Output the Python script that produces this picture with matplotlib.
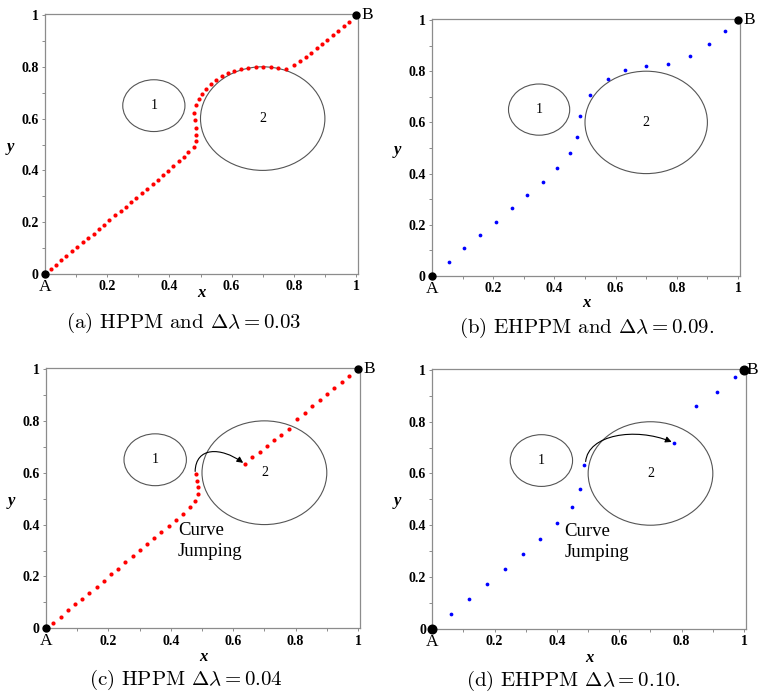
import matplotlib
matplotlib.use('Agg')
import matplotlib.pyplot as plt
from matplotlib.patches import Circle, FancyArrowPatch
from matplotlib.path import Path

plt.rcParams.update({
    'font.family': 'serif',
    'font.serif': ['Liberation Serif', 'DejaVu Serif'],
    'mathtext.fontset': 'cm',
})

RED = '#ff0000'
BLUE = '#0000ff'
GREY = '#8c8c8c'
W, H = 759, 696

# ── obstacles ───────────────────────────────────────────────
obs_x = [0.35, 0.70]
obs_y = [0.65, 0.60]
obs_r = [0.10, 0.20]
obs_lab = ['1', '2']

# ── (a) HPPM, dlambda = 0.03 ────────────────────────────────
a_x = [0.018, 0.035, 0.052, 0.069, 0.086, 0.103, 0.122, 0.139, 0.156, 0.173,
       0.190, 0.207, 0.226, 0.243, 0.260, 0.277, 0.294, 0.311, 0.329, 0.346,
       0.363, 0.380, 0.397, 0.413, 0.430, 0.446, 0.461, 0.478, 0.486, 0.487,
       0.485, 0.481, 0.480, 0.484, 0.494, 0.505, 0.518, 0.533, 0.550, 0.568,
       0.588, 0.609, 0.631, 0.654, 0.677, 0.702, 0.726, 0.750, 0.774, 0.800,
       0.820, 0.838, 0.856, 0.874, 0.891, 0.908, 0.926, 0.943, 0.960, 0.978]
a_y = [0.018, 0.036, 0.054, 0.071, 0.088, 0.105, 0.122, 0.140, 0.156, 0.173,
       0.191, 0.208, 0.226, 0.242, 0.259, 0.277, 0.294, 0.312, 0.329, 0.346,
       0.363, 0.381, 0.399, 0.417, 0.435, 0.453, 0.472, 0.492, 0.514, 0.538,
       0.564, 0.593, 0.623, 0.651, 0.675, 0.694, 0.713, 0.732, 0.750, 0.764,
       0.776, 0.785, 0.792, 0.797, 0.800, 0.801, 0.800, 0.797, 0.792, 0.806,
       0.823, 0.839, 0.855, 0.871, 0.888, 0.905, 0.921, 0.938, 0.956, 0.973]

# ── (b) EHPPM, dlambda = 0.09 ───────────────────────────────
b_x = [0.054, 0.106, 0.157, 0.209, 0.260, 0.311, 0.362, 0.409, 0.452, 0.474,
       0.485, 0.517, 0.574, 0.632, 0.700, 0.772, 0.844, 0.904, 0.957]
b_y = [0.056, 0.108, 0.160, 0.212, 0.264, 0.316, 0.368, 0.423, 0.479, 0.544,
       0.626, 0.706, 0.770, 0.803, 0.820, 0.828, 0.859, 0.908, 0.957]

# ── (c) HPPM, dlambda = 0.04 ────────────────────────────────
c_x = [0.024, 0.047, 0.071, 0.093, 0.116, 0.139, 0.162, 0.185, 0.208, 0.232,
       0.254, 0.278, 0.300, 0.324, 0.347, 0.370, 0.393, 0.416, 0.439, 0.460,
       0.478, 0.486, 0.487, 0.484, 0.480,
       0.638, 0.661, 0.685, 0.707, 0.731, 0.754, 0.778, 0.806, 0.830, 0.854,
       0.877, 0.900, 0.924, 0.948, 0.971]
c_y = [0.022, 0.045, 0.069, 0.093, 0.114, 0.138, 0.161, 0.184, 0.208, 0.230,
       0.254, 0.278, 0.301, 0.324, 0.347, 0.370, 0.395, 0.418, 0.442, 0.467,
       0.491, 0.518, 0.544, 0.569, 0.595,
       0.634, 0.659, 0.681, 0.704, 0.726, 0.747, 0.769, 0.808, 0.832, 0.856,
       0.879, 0.902, 0.925, 0.949, 0.972]

# ── (d) EHPPM, dlambda = 0.10 ───────────────────────────────
d_x = [0.061, 0.119, 0.175, 0.233, 0.290, 0.345, 0.399, 0.448, 0.475, 0.487,
       0.774, 0.847, 0.912, 0.972]
d_y = [0.055, 0.113, 0.171, 0.229, 0.289, 0.347, 0.407, 0.469, 0.540, 0.631,
       0.719, 0.862, 0.916, 0.973]

# curve-jumping arrows (start, two bezier controls, end)
c_jump = [(0.478, 0.605), (0.480, 0.700), (0.560, 0.700), (0.632, 0.638)]
d_jump = [(0.492, 0.646), (0.500, 0.750), (0.650, 0.780), (0.768, 0.722)]

captions = [r'(a) HPPM and $\Delta\lambda = 0.03$',
            r'(b) EHPPM and $\Delta\lambda = 0.09$.',
            r'(c) HPPM $\Delta\lambda = 0.04$',
            r'(d) EHPPM $\Delta\lambda = 0.10$.']

# layout in pixels: x of data 0, px per unit x, y of data 0, px per unit y
panels = [
    dict(x=a_x, y=a_y, c=RED, ms=3.0, box=(45, 311, 274, 259), xl=19, end=5.0,
         bx=8, cap=(184, 323), jump=None),
    dict(x=b_x, y=b_y, c=BLUE, ms=2.7, box=(432, 306, 276, 256), xl=27, end=5.0,
         bx=8, cap=(587, 328), jump=None),
    dict(x=c_x, y=c_y, c=RED, ms=3.0, box=(46, 312, 628.3, 259.3), xl=29, end=5.0,
         bx=8, cap=(186, 680), jump=c_jump),
    dict(x=d_x, y=d_y, c=BLUE, ms=2.7, box=(432.3, 311.7, 628.7, 258.7), xl=29,
         end=6.2, bx=6.3, cap=(573, 681), jump=d_jump),
]

XMAX, YMAX = 1.006, 1.004

fig = plt.figure(figsize=(W / 100, H / 100), dpi=100)

for p, cap in zip(panels, captions):
    x0, sx, y0, sy = p['box']
    ax = fig.add_axes([x0 / W, (H - y0) / H, sx * XMAX / W, sy * YMAX / H])
    ax.set_xlim(0, XMAX)
    ax.set_ylim(0, YMAX)

    for cx, cy, r, lab in zip(obs_x, obs_y, obs_r, obs_lab):
        ax.add_patch(Circle((cx, cy), r, fill=False, ec='#555555', lw=0.8))
        ax.text(cx, cy, lab, ha='center', va='center', fontsize=10)

    ax.plot(p['x'], p['y'], 'o', ms=p['ms'], color=p['c'], mec=p['c'], mew=0)
    ax.plot([0, 1], [0, 1], 'o', ms=p['end'], color='black', clip_on=False,
            zorder=5)
    ax.annotate('A', (0, 0), xytext=(0, -9.5), textcoords='offset points',
                ha='center', va='center', fontsize=12.5)
    ax.annotate('B', (1, 1), xytext=(p['bx'], 0), textcoords='offset points',
                ha='center', va='center', fontsize=12.5)

    if p['jump'] is not None:
        path = Path(p['jump'], [Path.MOVETO, Path.CURVE4, Path.CURVE4, Path.CURVE4])
        ax.add_patch(FancyArrowPatch(path=path, arrowstyle='-|>', mutation_scale=9,
                                     lw=0.8, color='black'))
        ax.text(0.423, 0.41, 'Curve\nJumping', ha='left', va='top',
                fontsize=13.5, linespacing=1.3)

    ax.set_xticks([0.2, 0.4, 0.6, 0.8, 1.0])
    ax.set_xticklabels(['0.2', '0.4', '0.6', '0.8', '1'])
    ax.set_yticks([0, 0.2, 0.4, 0.6, 0.8, 1.0])
    ax.set_yticklabels(['0', '0.2', '0.4', '0.6', '0.8', '1'])
    ax.set_xticks([0.1, 0.3, 0.5, 0.7, 0.9], minor=True)
    ax.set_yticks([0.1, 0.3, 0.5, 0.7, 0.9], minor=True)
    ax.tick_params(which='both', direction='out', length=2.5, width=0.7,
                   color=GREY, labelsize=10, pad=2)
    for lab in ax.get_xticklabels() + ax.get_yticklabels():
        lab.set_fontweight('bold')
    for s in ax.spines.values():
        s.set_color(GREY)
        s.set_linewidth(0.9)

    ax.text(0.5, -p['xl'] / (sy * YMAX), 'x', transform=ax.transAxes,
            ha='center', va='center', fontsize=12, fontweight='bold',
            fontstyle='italic')
    ax.text(-35 / (sx * XMAX), 0.49, 'y', transform=ax.transAxes,
            ha='center', va='center', fontsize=12, fontweight='bold',
            fontstyle='italic')

    fig.text(p['cap'][0] / W, 1 - p['cap'][1] / H, cap, ha='center',
             va='center', fontsize=15, family='cmr10')

fig.savefig('out.png', dpi=100)
